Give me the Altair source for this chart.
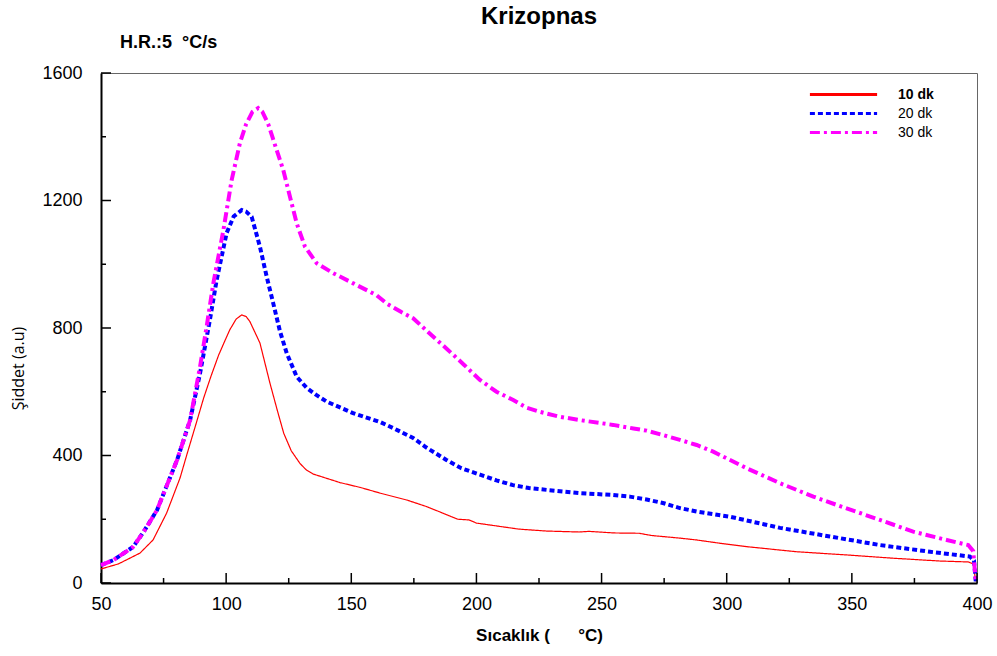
import altair as alt
import pandas as pd

series_names = ["10 dk", "20 dk", "30 dk"]
series_colors = ["#FF0000", "#0000FF", "#FF00FF"]

red_x = [50, 57, 65.6, 70.8, 76.2, 81.6, 84.2, 88, 91, 94, 97, 99.5, 101.5, 104, 106.2, 108, 109.5, 113.5, 117.5, 120.5,
         123, 126, 129.5, 132, 134.7, 145.5, 153.5, 161.5, 172.3, 180, 185.4, 190, 192.6, 197, 200, 208,
         217, 228, 241, 245, 255, 265, 270, 281, 288, 297, 308, 328, 348, 366, 385, 396.5, 398.5, 399.5]
red_y = [44, 60, 94, 135, 219, 330, 400, 500, 580, 650, 715, 760, 795, 828, 841, 836, 820, 753, 627, 540,
         470, 415, 375, 355, 342, 315, 300, 282, 260, 240, 223, 208, 200, 198, 188, 179,
         169, 163, 160, 162, 157, 156, 149, 141, 135, 125, 114, 98, 88, 78, 69, 66, 60, 5]

blue_x = [50, 55, 62.8, 67, 72.4, 76, 80.4, 85.6, 89.6, 93.5, 96.2, 100.2, 103, 106.2, 108, 110.2, 113.5,
          116.2, 118.8, 121.5, 124.2, 128.2, 132.2, 136, 140.2, 150.7, 161.5, 167, 174.7, 180, 188, 194,
          201.4, 208, 214.6, 221, 228.2, 241.4, 254.6, 261.3, 268, 274.5, 281.3, 288.1, 301.3, 321.3,
          341.2, 361.2, 381.2, 397.2, 398.8, 399.5]
blue_y = [56, 72, 113, 160, 229, 300, 386, 511, 659, 825, 950, 1098, 1150, 1170, 1165, 1149, 1055,
          961, 878, 790, 721, 647, 612, 590, 569, 533, 505, 485, 455, 425, 386, 360,
          340, 322, 307, 298, 292, 282, 276, 271, 262, 251, 235, 224, 208, 173,
          146, 119, 98, 83, 70, 5]

mag_x = [50, 55, 62.8, 67, 72.4, 76, 80.4, 85.6, 89.6, 92.2, 94.9, 98.9, 102.2, 105.5, 108, 110.5, 112.8,
         114.5, 116.8, 120.2, 122.8, 125.5, 128.2, 131.5, 136.2, 142.8, 150.8, 160.1, 164.1, 170, 174.8,
         181, 188.1, 195, 201.4, 208, 214.7, 220, 225.4, 233, 241.4, 254.6, 262.7, 268, 274.6, 281.3,
         288, 294.6, 308, 321.3, 334.6, 347.9, 361.2, 374.5, 387.9, 396.5, 398.5, 399.5]
mag_y = [56, 72, 113, 160, 229, 300, 386, 511, 680, 804, 941, 1107, 1264, 1380, 1440, 1478, 1490,
         1478, 1440, 1358, 1296, 1212, 1128, 1055, 1003, 972, 940, 903, 877, 850, 830,
         785, 735, 685, 637, 600, 574, 550, 537, 522, 511, 496, 485, 478, 464, 449,
         433, 412, 360, 313, 271, 234, 198, 161, 135, 119, 100, 5]

x_major = [50, 100, 150, 200, 250, 300, 350, 400]
x_minor = [75, 125, 175, 225, 275, 325, 375]
y_major = [0, 400, 800, 1200, 1600]
y_minor = [200, 600, 1000, 1400]

NB = "\u00a0"
title_text = "Krizopnas"
subtitle_text = "H.R.:5" + NB * 2 + "°C/s"
x_title = "Sıcaklık (" + NB * 6 + "°C)"
y_title = "Şiddet (a.u)"

W, H = 876, 510

rows = []
for name, xs, ys in zip(series_names, [red_x, blue_x, mag_x], [red_y, blue_y, mag_y]):
    for i, (a, b) in enumerate(zip(xs, ys)):
        rows.append({"series": name, "T": a, "I": b, "i": i})
df = pd.DataFrame(rows)

xscale = alt.Scale(domain=[50, 400], nice=False, zero=False)
yscale = alt.Scale(domain=[0, 1600], nice=False, zero=False)

xaxis = alt.Axis(title=x_title, values=x_major, format="d", ticks=False, grid=False,
                 labelFontSize=18, labelFont="Liberation Sans", labelPadding=12,
                 labelColor="black", domainColor="black", domainWidth=2, labelFlush=False,
                 titleFont="Liberation Sans", titleFontSize=17, titleFontWeight="bold",
                 titleColor="black", titlePadding=14)
yaxis = alt.Axis(title=y_title, values=y_major, format="d", ticks=False, grid=False,
                 labelFontSize=18, labelFont="Liberation Sans", labelPadding=19,
                 labelColor="black", domainColor="black", domainWidth=2, labelFlush=False,
                 titleFont="Open Sans", titleFontSize=16, titleFontWeight="normal",
                 titleColor="black", titleX=-83, titleY=295, titleBaseline="middle",
                 titleAngle=-90)

lines = alt.Chart(df).mark_line(clip=False).encode(
    x=alt.X("T:Q", scale=xscale, axis=xaxis, title=x_title),
    y=alt.Y("I:Q", scale=yscale, axis=yaxis, title=y_title),
    color=alt.Color("series:N", scale=alt.Scale(domain=series_names, range=series_colors),
                    legend=alt.Legend(title=None, orient="none", legendX=734, legendY=13,
                                      symbolType="M-4.8,0H4.8", symbolSize=196,
                                      symbolStrokeWidth=3, labelFontSize=14,
                                      labelFont="Liberation Sans", labelColor="black",
                                      labelOffset=46, rowPadding=3, padding=0,
                                      labelFontWeight={"expr": "datum.label == '10 dk' ? 'bold' : 'normal'"})),
    strokeDash=alt.StrokeDash("series:N", scale=alt.Scale(domain=series_names,
                                                          range=[[1, 0], [5, 3], [10, 4, 3, 4]])),
    strokeWidth=alt.condition("datum.series == '10 dk'", alt.value(1.2), alt.value(4)),
    order="i:Q",
)

xmaj = alt.Chart(pd.DataFrame({"v": x_major})).mark_rule(color="black", strokeWidth=1.5).encode(
    x=alt.X("v:Q", scale=xscale, axis=xaxis, title=x_title), y=alt.value(H), y2=alt.value(H - 10))
xmin = alt.Chart(pd.DataFrame({"v": x_minor})).mark_rule(color="black", strokeWidth=1.5).encode(
    x=alt.X("v:Q", scale=xscale, axis=xaxis, title=x_title), y=alt.value(H), y2=alt.value(H - 5))
ymaj = alt.Chart(pd.DataFrame({"v": y_major})).mark_rule(color="black", strokeWidth=1.5).encode(
    y=alt.Y("v:Q", scale=yscale, axis=yaxis, title=y_title), x=alt.value(0), x2=alt.value(10))
ymin = alt.Chart(pd.DataFrame({"v": y_minor})).mark_rule(color="black", strokeWidth=1.5).encode(
    y=alt.Y("v:Q", scale=yscale, axis=yaxis, title=y_title), x=alt.value(0), x2=alt.value(5))

sub = alt.Chart(pd.DataFrame({"t": [subtitle_text]})).mark_text(
    align="left", baseline="middle", fontSize=18, fontWeight="bold", font="Liberation Sans",
    color="black").encode(text="t:N", x=alt.value(19), y=alt.value(-30))

chart = alt.layer(lines, xmaj, xmin, ymaj, ymin, sub).properties(
    width=W, height=H,
    title=alt.TitleParams(title_text, fontSize=24, fontWeight="bold", font="Liberation Sans",
                          anchor="middle", offset=5, color="black"),
    autosize=alt.AutoSizeParams(type="none"),
    padding={"left": 101, "top": 73, "right": 20, "bottom": 73},
).configure_view(stroke="#666666", strokeWidth=1)

chart.save("out.html", embed_options={"renderer": "svg", "actions": False})
